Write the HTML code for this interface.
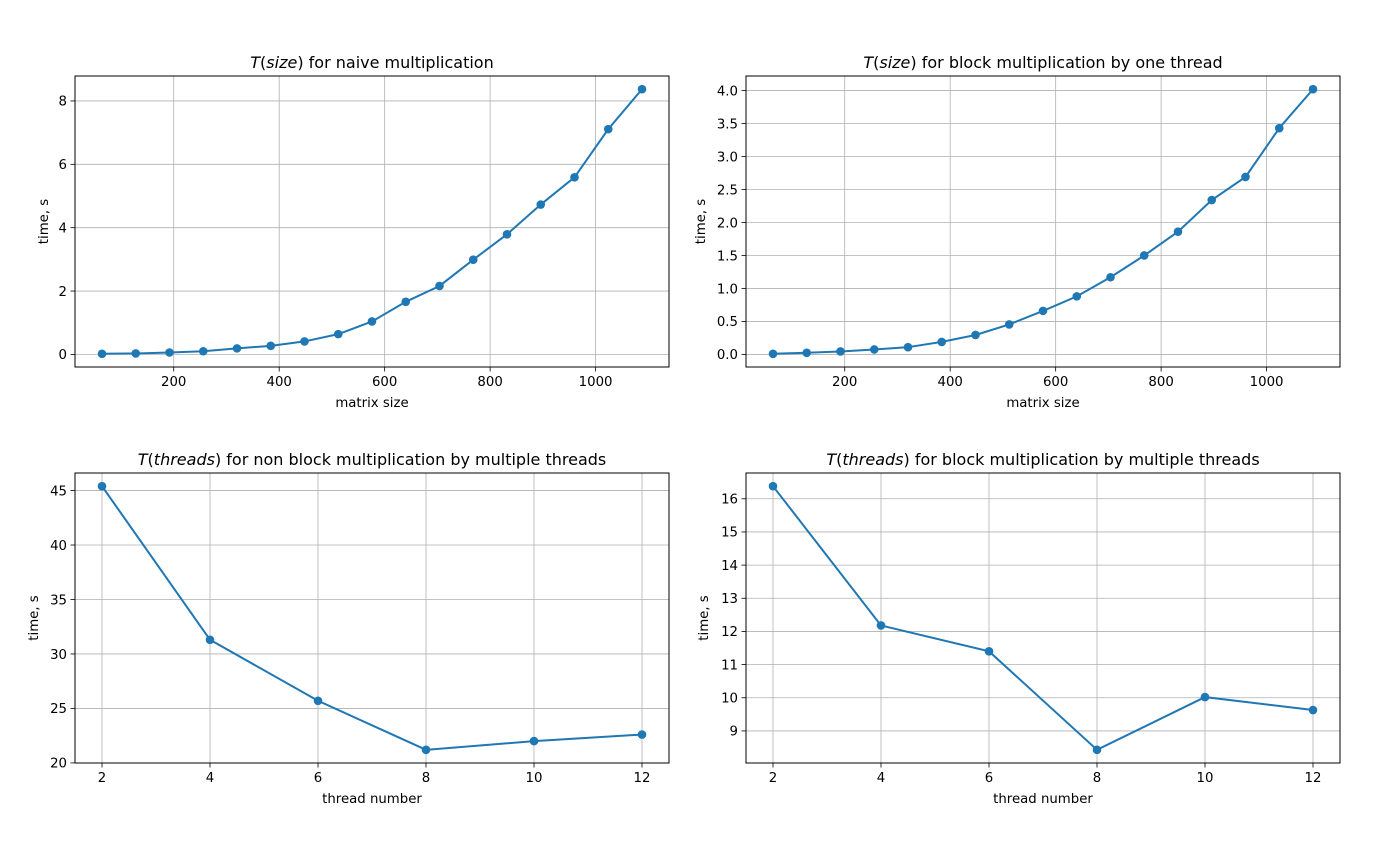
<!DOCTYPE html>
<html><head><meta charset="utf-8"><style>
body{margin:0;background:#fff;}
svg text{font-family:"DejaVu Sans","Liberation Sans",sans-serif;fill:#000;}
</style></head><body>
<svg id="fig" width="1388" height="853" viewBox="0 0 1388 853" xmlns="http://www.w3.org/2000/svg"></svg>
<script>
// Panel 1: naive
const sizes = [64,128,192,256,320,384,448,512,576,640,704,768,832,896,960,1024,1088];
const naiveTimes = [0.02,0.03,0.06,0.1,0.19,0.27,0.41,0.64,1.04,1.66,2.16,2.99,3.79,4.73,5.59,7.11,8.37];
const naiveYTicks = [0,2,4,6,8];
// Panel 2: block one thread
const blockTimes = [0.01,0.025,0.045,0.075,0.11,0.19,0.295,0.455,0.66,0.88,1.17,1.5,1.86,2.34,2.69,3.43,4.02];
const blockYTicks = [0,0.5,1,1.5,2,2.5,3,3.5,4];
const blockYLabels = ["0.0","0.5","1.0","1.5","2.0","2.5","3.0","3.5","4.0"];
const sizeXTicks = [200,400,600,800,1000];
// Panel 3 & 4: threads
const threads = [2,4,6,8,10,12];
const nonBlockThreadTimes = [45.4,31.3,25.7,21.2,22.0,22.6];
const nonBlockYTicks = [20,25,30,35,40,45];
const blockThreadTimes = [16.38,12.18,11.4,8.43,10.02,9.63];
const blockThreadYTicks = [9,10,11,12,13,14,15,16];
const threadXTicks = [2,4,6,8,10,12];

const NS="http://www.w3.org/2000/svg";
const svg=document.getElementById('fig');
function mk(tag,attrs,parent){const e=document.createElementNS(NS,tag);for(const k in attrs)e.setAttribute(k,attrs[k]);(parent||svg).appendChild(e);return e;}

function panel(opt){
  const {L,T,W,H,xs,ys,xTicks,xLabels,yTicks,yLabels,titleItalic,titleRest,xLabel,name}=opt;
  const g=mk('g',{});
  
  
  const xmin=Math.min(...xs),xmax=Math.max(...xs),ymin=Math.min(...ys),ymax=Math.max(...ys);
  const xm=(xmax-xmin)*0.05,ym=(ymax-ymin)*0.05;
  const x0=xmin-xm,x1=xmax+xm,y0=ymin-ym,y1=ymax+ym;
  const sx=v=>L+(v-x0)/(x1-x0)*W;
  const sy=v=>T+H-(v-y0)/(y1-y0)*H;
  const grid=mk('g',{},g);
  
  
  xTicks.forEach((t,i)=>{
    const x=sx(t);
    const gl=mk('line',{x1:x,x2:x,y1:T,y2:T+H,stroke:'#b0b0b0','stroke-width':0.8},grid);
    
    
    mk('line',{x1:x,x2:x,y1:T+H,y2:T+H+4.5,stroke:'#000','stroke-width':0.8},g);
    const tx=mk('text',{x:x,y:T+H+19,'font-size':13.3,'text-anchor':'middle'},g);
    
    
    tx.textContent=xLabels?xLabels[i]:String(t);
  });
  yTicks.forEach((t,i)=>{
    const y=sy(t);
    const gl=mk('line',{x1:L,x2:L+W,y1:y,y2:y,stroke:'#b0b0b0','stroke-width':0.8},grid);
    
    
    mk('line',{x1:L-4.5,x2:L,y1:y,y2:y,stroke:'#000','stroke-width':0.8},g);
    const ty=mk('text',{x:L-8,y:y+4.8,'font-size':13.3,'text-anchor':'end'},g);
    
    
    ty.textContent=yLabels?yLabels[i]:String(t);
  });
  const pts=xs.map((v,i)=>sx(v).toFixed(2)+','+sy(ys[i]).toFixed(2)).join(' ');
  const pl=mk('polyline',{points:pts,fill:'none',stroke:'#1f77b4','stroke-width':2},g);
  
  
  xs.forEach((v,i)=>{
    const c=mk('circle',{cx:sx(v),cy:sy(ys[i]),r:4.3,fill:'#1f77b4'},g);
    
    
  });
  const fr=mk('rect',{x:L,y:T,width:W,height:H,fill:'none',stroke:'#000','stroke-width':1},g);
  
  
  const tt=mk('text',{x:L+W/2,y:T-8,'font-size':16,'text-anchor':'middle'},g);
  
  
  tt.innerHTML='<tspan font-style="italic">T</tspan>(<tspan font-style="italic">'+titleItalic+'</tspan>) '+titleRest;
  const xl=mk('text',{x:L+W/2,y:T+H+40,'font-size':13.3,'text-anchor':'middle'},g);
  
  
  xl.textContent=xLabel;
  const yx=opt.yLabelX, yc=T+H/2;
  const yl=mk('text',{x:yx,y:yc,'font-size':13.3,'text-anchor':'middle',transform:'rotate(-90 '+yx+' '+yc+')'},g);
  
  
  yl.textContent='time, s';
}
panel({name:'naive-chart',L:75,T:76,W:594,H:291,xs:sizes,ys:naiveTimes,xTicks:sizeXTicks,yTicks:naiveYTicks,titleItalic:'size',titleRest:'for naive multiplication',xLabel:'matrix size',yLabelX:48});
panel({name:'block-one-thread-chart',L:746,T:76,W:594,H:291,xs:sizes,ys:blockTimes,xTicks:sizeXTicks,yTicks:blockYTicks,yLabels:blockYLabels,titleItalic:'size',titleRest:'for block multiplication by one thread',xLabel:'matrix size',yLabelX:705});
panel({name:'non-block-threads-chart',L:75,T:473,W:594,H:290,xs:threads,ys:nonBlockThreadTimes,xTicks:threadXTicks,yTicks:nonBlockYTicks,titleItalic:'threads',titleRest:'for non block multiplication by multiple threads',xLabel:'thread number',yLabelX:38});
panel({name:'block-threads-chart',L:746,T:473,W:594,H:290,xs:threads,ys:blockThreadTimes,xTicks:threadXTicks,yTicks:blockThreadYTicks,titleItalic:'threads',titleRest:'for block multiplication by multiple threads',xLabel:'thread number',yLabelX:708});
</script>
</body></html>
